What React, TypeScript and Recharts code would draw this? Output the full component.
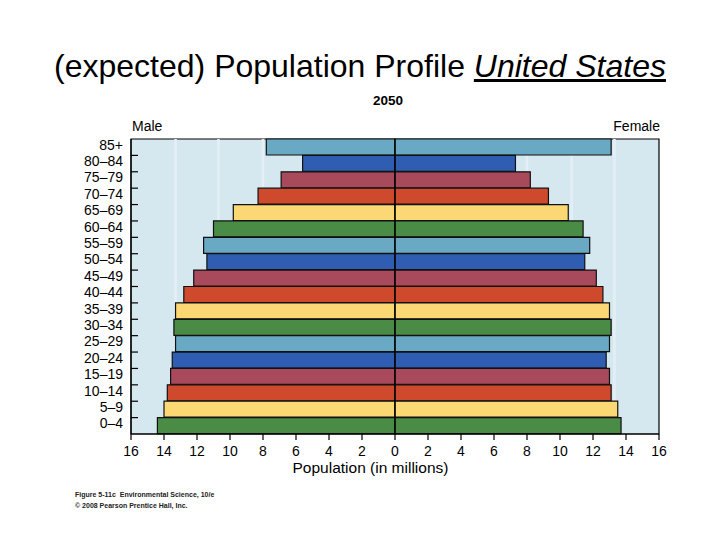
import React from 'react';
import { BarChart, Bar, XAxis, YAxis, Cell, ReferenceLine, ReferenceArea } from 'recharts';

const ageGroups = ['85+', '80–84', '75–79', '70–74', '65–69', '60–64', '55–59', '50–54', '45–49', '40–44', '35–39', '30–34', '25–29', '20–24', '15–19', '10–14', '5–9', '0–4'];
const maleValues = [7.8, 5.6, 6.9, 8.3, 9.8, 11.0, 11.6, 11.4, 12.2, 12.8, 13.3, 13.4, 13.3, 13.5, 13.6, 13.8, 14.0, 14.4];
const femaleValues = [13.1, 7.3, 8.2, 9.3, 10.5, 11.4, 11.8, 11.5, 12.2, 12.6, 13.0, 13.1, 13.0, 12.8, 13.0, 13.1, 13.5, 13.7];
const rowColors = ['#6aa9c3', '#2f5db1', '#a84a5b', '#cf4a2c', '#fbd873', '#4a8b45', '#6aa9c3', '#2f5db1', '#a84a5b', '#cf4a2c', '#fbd873', '#4a8b45', '#6aa9c3', '#2f5db1', '#a84a5b', '#cf4a2c', '#fbd873', '#4a8b45'];
const xTicks = [-16, -14, -12, -10, -8, -6, -4, -2, 0, 2, 4, 6, 8, 10, 12, 14, 16];
const guideValues = [-13.3, -10.7, -8, 8, 10.7, 13.3];

const data = ageGroups.map((age, i) => ({ age, male: -maleValues[i], female: femaleValues[i] }));

const W = 720;
const H = 540;
const X_AXIS_H = 30;
const M = { top: 139, right: 61, bottom: 106 - X_AXIS_H, left: 71 };
const bandSize = (H - M.top - 106) / ageGroups.length;
const font = 'Arial, "Liberation Sans", sans-serif';

const AgeTick = (props: any) => {
  const { x, y, payload, index } = props;
  const axisX = x + 8;
  return (
    <g>
      <text x={x} y={y} dy={2.5} textAnchor="end" fontSize={14} fontFamily={font} fill="#000">
        {payload.value}
      </text>
      {index < ageGroups.length - 1 && (
        <line x1={axisX} x2={axisX + 7} y1={y + bandSize / 2} y2={y + bandSize / 2} stroke="#000" strokeWidth={1.2} />
      )}
    </g>
  );
};

export default function App() {
  return (
    <div style={{ position: 'absolute', left: 0, top: 0, width: W, height: H, background: '#fff', fontFamily: font }}>
      <div style={{ position: 'absolute', left: 0, width: W, top: 48, textAlign: 'center', fontSize: 32, color: '#000', whiteSpace: 'nowrap' }}>
        (expected) Population Profile <span style={{ fontStyle: 'italic', textDecoration: 'underline' }}>United States</span>
      </div>
      <div style={{ position: 'absolute', left: 340, width: 96, top: 93, textAlign: 'center', fontSize: 13.5, fontWeight: 'bold' }}>2050</div>
      <div style={{ position: 'absolute', left: 132, top: 118, fontSize: 14 }}>Male</div>
      <div style={{ position: 'absolute', right: W - 660, top: 118, fontSize: 14 }}>Female</div>
      <div style={{ position: 'absolute', left: 0, width: 741, top: 459, textAlign: 'center', fontSize: 15.5 }}>Population (in millions)</div>
      <div style={{ position: 'absolute', left: 75, top: 489, fontSize: 7, fontWeight: 'bold', lineHeight: '11px', color: '#222' }}>
        Figure 5-11c&nbsp; Environmental Science, 10/e<br />© 2008 Pearson Prentice Hall, Inc.
      </div>
      <div style={{ position: 'absolute', left: 0, top: 0 }}>
        <BarChart width={W} height={H} data={data} layout="vertical" stackOffset="sign" barCategoryGap={0} margin={M}>
          <ReferenceArea x1={-16} x2={16} fill="#d5e7ef" fillOpacity={1} stroke="#000" strokeWidth={1.2} ifOverflow="visible" />
          {guideValues.map((v) => (
            <ReferenceArea key={v} x1={v - 0.08} x2={v + 0.08} fill="#e3eff5" fillOpacity={1} stroke="none" />
          ))}
          <XAxis
            type="number"
            domain={[-16, 16]}
            ticks={xTicks}
            height={X_AXIS_H}
            tickFormatter={(v: number) => String(Math.abs(v))}
            axisLine={{ stroke: '#000', strokeWidth: 1.2 }}
            tickLine={{ stroke: '#000', strokeWidth: 1.2 }}
            tickSize={6}
            tickMargin={6}
            tick={{ fontSize: 14, fill: '#000', fontFamily: font }}
            allowDataOverflow
          />
          <YAxis
            type="category"
            dataKey="age"
            width={60}
            axisLine={{ stroke: '#000', strokeWidth: 1.2 }}
            tickLine={false}
            tick={<AgeTick />}
            interval={0}
          />
          <Bar dataKey="male" stackId="a" stroke="#111" strokeWidth={1.2} isAnimationActive={false}>
            {data.map((d, i) => (
              <Cell key={d.age} fill={rowColors[i]} />
            ))}
          </Bar>
          <Bar dataKey="female" stackId="a" stroke="#111" strokeWidth={1.2} isAnimationActive={false}>
            {data.map((d, i) => (
              <Cell key={d.age} fill={rowColors[i]} />
            ))}
          </Bar>
          <ReferenceLine x={0} stroke="#000" strokeWidth={1.2} />
        </BarChart>
      </div>
    </div>
  );
}
